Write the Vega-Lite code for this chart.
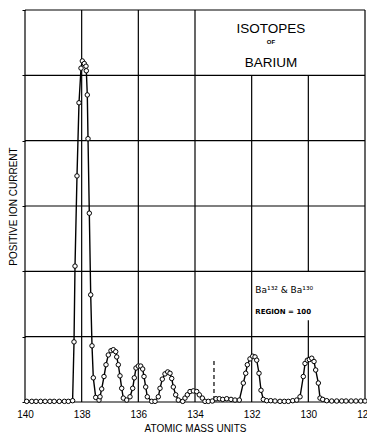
{
  "$schema": "https://vega.github.io/schema/vega-lite/v6.json",
  "width": 340,
  "height": 392,
  "autosize": {"type": "none"},
  "padding": {"left": 25, "top": 10, "right": 2, "bottom": 33},
  "background": "white",
  "config": {"view": {"stroke": null}, "font": "Liberation Sans"},
  "datasets": {
    "vlines": [
      {"m": 140, "v0": 0, "v1": 6},
      {"m": 138, "v0": 0, "v1": 6},
      {"m": 136, "v0": 0, "v1": 6},
      {"m": 134, "v0": 0, "v1": 6},
      {"m": 132, "v0": 0, "v1": 5},
      {"m": 130, "v0": 0, "v1": 1.25},
      {"m": 130, "v0": 2, "v1": 5},
      {"m": 128, "v0": 0, "v1": 6}
    ],
    "hlines": [
      {"v": 0, "m0": 140, "m1": 128},
      {"v": 1, "m0": 140, "m1": 128},
      {"v": 2, "m0": 140, "m1": 128},
      {"v": 3, "m0": 140, "m1": 128},
      {"v": 4, "m0": 140, "m1": 128},
      {"v": 5, "m0": 140, "m1": 128},
      {"v": 6, "m0": 140, "m1": 128}
    ],
    "dash": [{"m": 133.33, "v0": 0.03, "v1": 0.64}],
    "curve": [
      {"m": 139.94, "v": 0.01}, {"m": 139.76, "v": 0.01}, {"m": 139.61, "v": 0.01}, {"m": 139.45, "v": 0.01},
      {"m": 139.29, "v": 0.01}, {"m": 139.12, "v": 0.01}, {"m": 138.97, "v": 0.01}, {"m": 138.79, "v": 0.01},
      {"m": 138.61, "v": 0.01}, {"m": 138.47, "v": 0.01}, {"m": 138.32, "v": 0.02},
      {"m": 138.27, "v": 0.92}, {"m": 138.235, "v": 2.08}, {"m": 138.165, "v": 3.46}, {"m": 138.094, "v": 4.58},
      {"m": 138.023, "v": 5.11}, {"m": 137.977, "v": 5.22}, {"m": 137.907, "v": 5.18}, {"m": 137.847, "v": 5.14},
      {"m": 137.836, "v": 5.07}, {"m": 137.801, "v": 4.70}, {"m": 137.776, "v": 4.03}, {"m": 137.730, "v": 2.89},
      {"m": 137.681, "v": 1.64}, {"m": 137.635, "v": 0.86}, {"m": 137.589, "v": 0.37}, {"m": 137.504, "v": 0.07},
      {"m": 137.388, "v": 0.03}, {"m": 137.353, "v": 0.08}, {"m": 137.293, "v": 0.20}, {"m": 137.212, "v": 0.39},
      {"m": 137.141, "v": 0.57}, {"m": 137.060, "v": 0.72}, {"m": 136.965, "v": 0.785}, {"m": 136.883, "v": 0.80},
      {"m": 136.798, "v": 0.77}, {"m": 136.763, "v": 0.69}, {"m": 136.707, "v": 0.57}, {"m": 136.647, "v": 0.40},
      {"m": 136.587, "v": 0.21}, {"m": 136.530, "v": 0.06}, {"m": 136.410, "v": 0.03}, {"m": 136.294, "v": 0.08},
      {"m": 136.199, "v": 0.21}, {"m": 136.142, "v": 0.37}, {"m": 136.082, "v": 0.52}, {"m": 136.001, "v": 0.55},
      {"m": 135.916, "v": 0.55}, {"m": 135.846, "v": 0.505}, {"m": 135.800, "v": 0.39}, {"m": 135.740, "v": 0.23},
      {"m": 135.683, "v": 0.08}, {"m": 135.528, "v": 0.01}, {"m": 135.411, "v": 0.01}, {"m": 135.295, "v": 0.08},
      {"m": 135.235, "v": 0.21}, {"m": 135.154, "v": 0.35}, {"m": 135.059, "v": 0.43}, {"m": 134.963, "v": 0.46},
      {"m": 134.882, "v": 0.44}, {"m": 134.822, "v": 0.36}, {"m": 134.765, "v": 0.23}, {"m": 134.681, "v": 0.11},
      {"m": 134.589, "v": 0.03}, {"m": 134.434, "v": 0.01}, {"m": 134.353, "v": 0.06}, {"m": 134.271, "v": 0.11},
      {"m": 134.176, "v": 0.16}, {"m": 134.059, "v": 0.17}, {"m": 133.939, "v": 0.16}, {"m": 133.847, "v": 0.11},
      {"m": 133.741, "v": 0.06}, {"m": 133.647, "v": 0.01}, {"m": 133.530, "v": 0.01}, {"m": 133.389, "v": 0.015},
      {"m": 133.258, "v": 0.05}, {"m": 133.142, "v": 0.05}, {"m": 133.022, "v": 0.04}, {"m": 132.880, "v": 0.05},
      {"m": 132.729, "v": 0.04}, {"m": 132.588, "v": 0.03}, {"m": 132.436, "v": 0.03}, {"m": 132.295, "v": 0.29},
      {"m": 132.210, "v": 0.44}, {"m": 132.153, "v": 0.57}, {"m": 132.059, "v": 0.66}, {"m": 131.963, "v": 0.70},
      {"m": 131.882, "v": 0.69}, {"m": 131.822, "v": 0.64}, {"m": 131.741, "v": 0.44}, {"m": 131.670, "v": 0.18},
      {"m": 131.589, "v": 0.04}, {"m": 131.469, "v": 0.02}, {"m": 131.327, "v": 0.02}, {"m": 131.176, "v": 0.015},
      {"m": 131.0, "v": 0.01}, {"m": 130.847, "v": 0.01}, {"m": 130.706, "v": 0.01}, {"m": 130.551, "v": 0.02},
      {"m": 130.410, "v": 0.03}, {"m": 130.293, "v": 0.08}, {"m": 130.177, "v": 0.39}, {"m": 130.117, "v": 0.59},
      {"m": 130.035, "v": 0.64}, {"m": 129.965, "v": 0.65}, {"m": 129.880, "v": 0.67}, {"m": 129.799, "v": 0.62},
      {"m": 129.741, "v": 0.49}, {"m": 129.647, "v": 0.29}, {"m": 129.588, "v": 0.06}, {"m": 129.493, "v": 0.04},
      {"m": 129.351, "v": 0.02}, {"m": 129.175, "v": 0.015}, {"m": 128.998, "v": 0.015}, {"m": 128.822, "v": 0.015},
      {"m": 128.67, "v": 0.015}, {"m": 128.49, "v": 0.015}, {"m": 128.32, "v": 0.015}, {"m": 128.15, "v": 0.015},
      {"m": 128.0, "v": 0.015}
    ],
    "bigTitle": [
      {"m": 131.32, "v": 5.71, "t": "ISOTOPES"},
      {"m": 131.32, "v": 5.19, "t": "BARIUM"}
    ],
    "ofText": [{"m": 131.32, "v": 5.51, "t": "OF"}],
    "baText": [{"m": 131.87, "v": 1.71, "t": "Ba¹³² & Ba¹³⁰"}],
    "regText": [{"m": 131.87, "v": 1.38, "t": "REGION = 100"}]
  },
  "layer": [
    {
      "data": {"name": "vlines"},
      "mark": {"type": "rule", "color": "black", "strokeWidth": 1.2},
      "encoding": {
        "x": {
          "field": "m", "type": "quantitative",
          "scale": {"domain": [128, 140], "reverse": true, "nice": false, "zero": false},
          "axis": {
            "values": [140, 138, 136, 134, 132, 130, 128], "format": "d",
            "tickSize": 0, "labelPadding": 7, "labelFontSize": 10, "labelColor": "black",
            "labelFlush": false, "domain": false, "grid": false,
            "title": "ATOMIC  MASS  UNITS", "titleFontSize": 10, "titleFontWeight": "normal",
            "titleColor": "black", "titlePadding": 4
          }
        },
        "y": {
          "field": "v0", "type": "quantitative",
          "scale": {"domain": [0, 6], "nice": false, "zero": true},
          "axis": {
            "values": [0, 1, 2, 3, 4, 5, 6], "tickSize": 3, "tickColor": "black",
            "labels": false, "domain": false, "grid": false,
            "title": "POSITIVE  ION  CURRENT", "titleFontSize": 10, "titleFontWeight": "normal",
            "titleColor": "black", "titlePadding": 3
          }
        },
        "y2": {"field": "v1"}
      }
    },
    {
      "data": {"name": "hlines"},
      "mark": {"type": "rule", "color": "black", "strokeWidth": 1.2},
      "encoding": {
        "y": {"field": "v", "type": "quantitative"},
        "x": {"field": "m0", "type": "quantitative"},
        "x2": {"field": "m1"}
      }
    },
    {
      "data": {"name": "dash"},
      "mark": {"type": "rule", "color": "black", "strokeWidth": 1.2, "strokeDash": [4, 3]},
      "encoding": {
        "x": {"field": "m", "type": "quantitative"},
        "y": {"field": "v0", "type": "quantitative"},
        "y2": {"field": "v1"}
      }
    },
    {
      "data": {"name": "curve"},
      "mark": {"type": "line", "color": "black", "strokeWidth": 1.4},
      "encoding": {
        "x": {"field": "m", "type": "quantitative"},
        "y": {"field": "v", "type": "quantitative"}
      }
    },
    {
      "data": {"name": "curve"},
      "mark": {"type": "point", "shape": "circle", "filled": true, "fill": "white", "stroke": "black", "strokeWidth": 1, "size": 20, "opacity": 1},
      "encoding": {
        "x": {"field": "m", "type": "quantitative"},
        "y": {"field": "v", "type": "quantitative"}
      }
    },
    {
      "data": {"name": "bigTitle"},
      "mark": {"type": "text", "fontSize": 13.5, "color": "black", "align": "center", "baseline": "middle"},
      "encoding": {
        "x": {"field": "m", "type": "quantitative"},
        "y": {"field": "v", "type": "quantitative"},
        "text": {"field": "t"}
      }
    },
    {
      "data": {"name": "ofText"},
      "mark": {"type": "text", "fontSize": 6, "fontWeight": "bold", "color": "black", "align": "center", "baseline": "middle"},
      "encoding": {
        "x": {"field": "m", "type": "quantitative"},
        "y": {"field": "v", "type": "quantitative"},
        "text": {"field": "t"}
      }
    },
    {
      "data": {"name": "baText"},
      "mark": {"type": "text", "font": "DejaVu Sans", "fontSize": 9, "color": "black", "align": "left", "baseline": "middle"},
      "encoding": {
        "x": {"field": "m", "type": "quantitative"},
        "y": {"field": "v", "type": "quantitative"},
        "text": {"field": "t"}
      }
    },
    {
      "data": {"name": "regText"},
      "mark": {"type": "text", "font": "DejaVu Sans", "fontSize": 7, "fontWeight": "bold", "color": "black", "align": "left", "baseline": "middle"},
      "encoding": {
        "x": {"field": "m", "type": "quantitative"},
        "y": {"field": "v", "type": "quantitative"},
        "text": {"field": "t"}
      }
    }
  ]
}
